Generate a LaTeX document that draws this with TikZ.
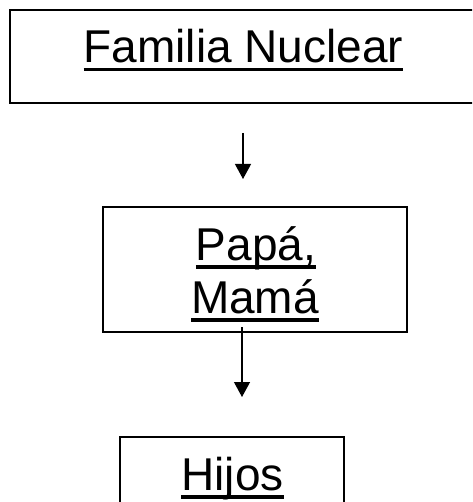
\documentclass[tikz,border=0pt]{standalone}
\usepackage{fontspec}
\setmainfont{Liberation Sans}
\usetikzlibrary{arrows.meta}

% underline drawn as a rule just below the baseline
\newcommand\ulbar[1]{\leavevmode\setbox0=\hbox{#1}\rlap{\vrule height -5pt depth 8.5pt width \wd0}\box0}

\tikzset{
  box/.style={draw=black, line width=1.3pt, rectangle, inner sep=0pt},
  label text/.style={anchor=base, inner sep=0pt, font=\fontsize{46}{53}\selectfont},
  flow/.style={draw=black, line width=1.2pt, -{Triangle[width=16pt,length=15pt]}},
}

\begin{document}
\begin{tikzpicture}[x=1pt, y=-1pt]
  \useasboundingbox (0,0) rectangle (472,502);
  \clip (0,0) rectangle (472,502);

  % boxes
  \node[box, minimum width=466pt, minimum height=93pt] (nuclear) at (243,56.5) {};
  \node[box, minimum width=304pt, minimum height=125pt] (parents) at (255,269.5) {};
  \node[box, minimum width=224pt, minimum height=103pt] (children) at (232,488.5) {};

  % texts
  \node[label text] (tnuclear) at (243.5,63) {\ulbar{Familia Nuclear}};
  \node[label text] (tpapa) at (256,260) {\ulbar{Papá,}};
  \node[label text] (tmama) at (255,313) {\ulbar{Mamá}};
  \node[label text] (thijos) at (232.5,490) {\ulbar{Hijos}};

  % arrows
  \coordinate (a1s) at (243,133);
  \coordinate (a1e) at (243,179);
  \coordinate (a2s) at (242,327);
  \coordinate (a2e) at (242,397);
  \draw[flow] (a1s) -- (a1e);
  \draw[flow] (a2s) -- (a2e);
\end{tikzpicture}
\end{document}
